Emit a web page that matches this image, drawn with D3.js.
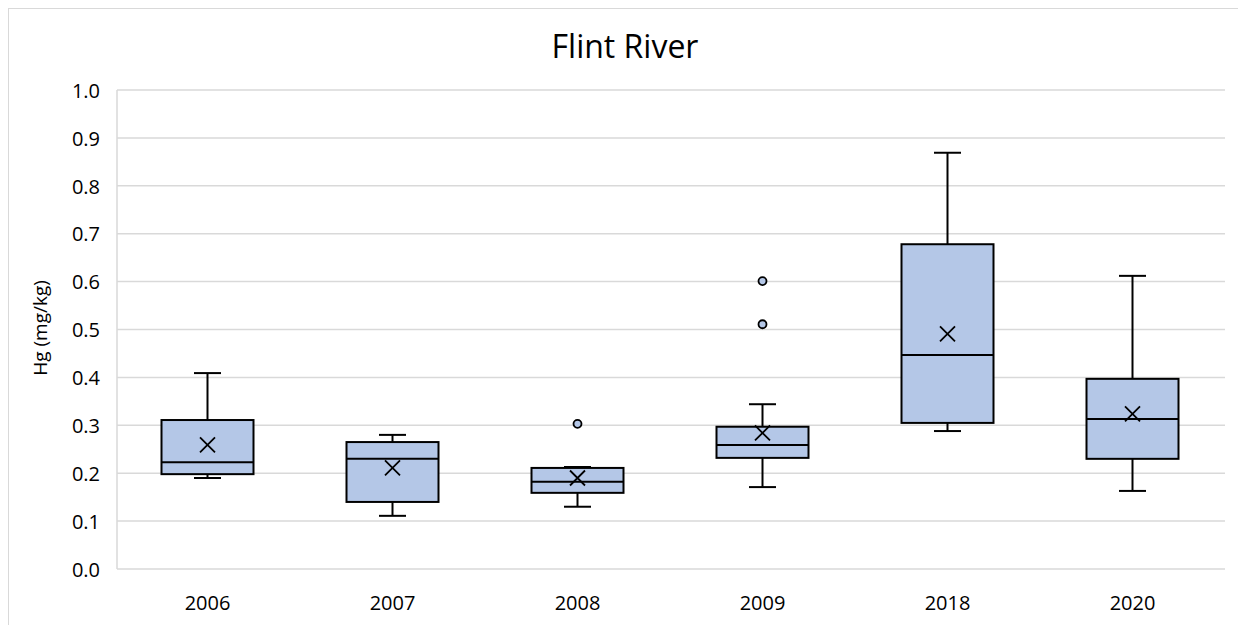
<!DOCTYPE html>
<html><head><meta charset="utf-8">
<script src="https://cdn.jsdelivr.net/npm/d3@7"></script>
<style>body{margin:0;background:#fff}svg{display:block}</style>
</head><body>
<svg id="c" width="1238" height="625"></svg>
<script>
const categories = ["2006","2007","2008","2009","2018","2020"];
const whiskerLow = [0.190, 0.111, 0.130, 0.171, 0.288, 0.163];
const q1 = [0.198, 0.140, 0.159, 0.232, 0.305, 0.230];
const median = [0.223, 0.230, 0.182, 0.259, 0.447, 0.313];
const q3 = [0.311, 0.265, 0.211, 0.297, 0.678, 0.397];
const whiskerHigh = [0.409, 0.280, 0.213, 0.344, 0.869, 0.612];
const mean = [0.259, 0.211, 0.190, 0.284, 0.491, 0.324];
const outliers = [[], [], [0.303], [0.511, 0.601], [], []];
const yTicks = [0,0.1,0.2,0.3,0.4,0.5,0.6,0.7,0.8,0.9,1.0];

const svg = d3.select("#c");
const font = "'Open Sans', 'Noto Sans', sans-serif";
svg.append("rect").attr("x",8.5).attr("y",8.5).attr("width",1240).attr("height",640)
  .attr("fill","#fff").attr("stroke","#d9d9d9").attr("stroke-width",1);

const x = d3.scaleBand().domain(categories).range([115,1225]);
const y = d3.scaleLinear().domain([0,1]).range([569,90]);

// gridlines
svg.append("g").selectAll("line").data(yTicks).join("line")
  .attr("x1",117).attr("x2",1225).attr("y1",d=>y(d)).attr("y2",d=>y(d))
  .attr("stroke","#d9d9d9").attr("stroke-width",1.5);
svg.append("line").attr("x1",117).attr("x2",117).attr("y1",y(1)).attr("y2",y(0))
  .attr("stroke","#d9d9d9").attr("stroke-width",1.5);

// y axis labels
const yAxis = d3.axisLeft(y).tickValues(yTicks).tickFormat(d3.format(".1f")).tickSize(0).tickPadding(0);
const ga = svg.append("g").attr("transform","translate(100,0)").call(yAxis);
ga.select(".domain").remove();
ga.selectAll("text").attr("font-family",font).attr("font-size",20).attr("fill","#000").attr("dy","0.36em");

// x axis labels
const xAxis = d3.axisBottom(x).tickSize(0).tickPadding(0);
const gx = svg.append("g").attr("transform","translate(0,610)").call(xAxis);
gx.select(".domain").remove();
gx.selectAll("text").attr("font-family",font).attr("font-size",20).attr("fill","#000").attr("dy",0);

// title
svg.append("text").attr("x",625).attr("y",58).attr("text-anchor","middle")
  .attr("font-family",font).attr("font-size",32).attr("fill","#000").text("Flint River");
// y title
svg.append("text").attr("transform","translate(47,328) rotate(-90)").attr("text-anchor","middle")
  .attr("font-family",font).attr("font-size",19).attr("fill","#000").text("Hg (mg/kg)");

const bw = 92, cap = 27;
const g = svg.append("g");
categories.forEach((c,i)=>{
  const cx = x(c) + x.bandwidth()/2;
  const gg = g.append("g");
  // whiskers
  gg.append("line").attr("x1",cx).attr("x2",cx).attr("y1",y(q3[i])).attr("y2",y(whiskerHigh[i])).attr("stroke","#000").attr("stroke-width",2);
  gg.append("line").attr("x1",cx).attr("x2",cx).attr("y1",y(q1[i])).attr("y2",y(whiskerLow[i])).attr("stroke","#000").attr("stroke-width",2);
  gg.append("line").attr("x1",cx-cap/2).attr("x2",cx+cap/2).attr("y1",y(whiskerHigh[i])).attr("y2",y(whiskerHigh[i])).attr("stroke","#000").attr("stroke-width",2);
  gg.append("line").attr("x1",cx-cap/2).attr("x2",cx+cap/2).attr("y1",y(whiskerLow[i])).attr("y2",y(whiskerLow[i])).attr("stroke","#000").attr("stroke-width",2);
  // box
  gg.append("rect").attr("x",cx-bw/2).attr("width",bw).attr("y",y(q3[i])).attr("height",y(q1[i])-y(q3[i]))
    .attr("fill","#b4c7e7").attr("stroke","#000").attr("stroke-width",2);
  gg.append("line").attr("x1",cx-bw/2).attr("x2",cx+bw/2).attr("y1",y(median[i])).attr("y2",y(median[i])).attr("stroke","#000").attr("stroke-width",2);
  // mean X
  const my = y(mean[i]), s = 7.5;
  gg.append("path").attr("d",`M${cx-s},${my-s}L${cx+s},${my+s}M${cx-s},${my+s}L${cx+s},${my-s}`)
    .attr("stroke","#000").attr("stroke-width",1.8).attr("fill","none");
  // outliers
  gg.selectAll("circle").data(outliers[i]).join("circle").attr("cx",cx).attr("cy",d=>y(d)).attr("r",4)
    .attr("fill","#b4c7e7").attr("stroke","#000").attr("stroke-width",1.8);
});
</script>
</body></html>
